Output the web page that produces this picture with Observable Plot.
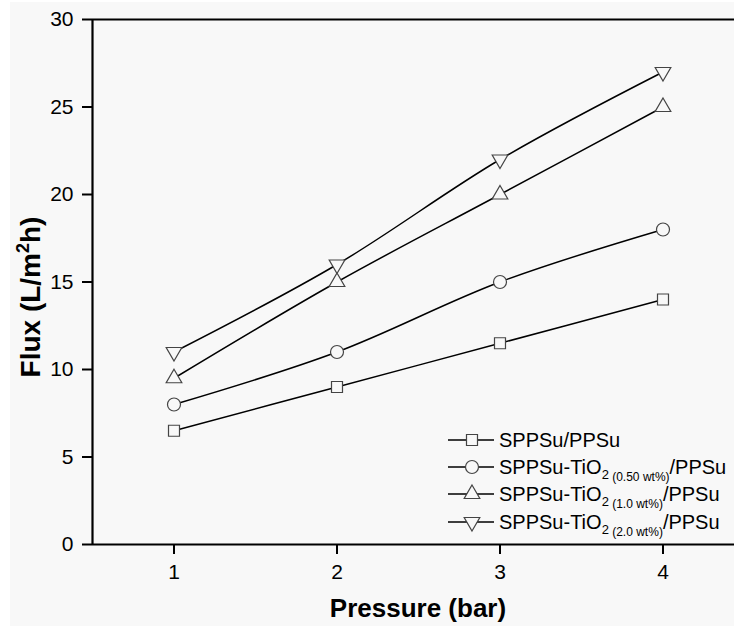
<!DOCTYPE html>
<html><head><meta charset="utf-8">
<script src="https://cdn.jsdelivr.net/npm/d3@7"></script>
<script src="https://cdn.jsdelivr.net/npm/@observablehq/plot@0.6"></script>
<style>
html,body{margin:0;padding:0;background:#fff;}
#bg{position:absolute;left:10px;top:2px;width:724px;height:624px;background:#f8f8f8;}
#chart{position:absolute;left:0;top:0;}
</style></head><body><div id="bg"></div><div id="chart"></div>
<script>
// ---- data ----
const pressure = [1, 2, 3, 4];
const seriesKeys = ["s0", "s050", "s10", "s20"];
const fluxPlain = [6.5, 9, 11.5, 14];
const flux050 = [8, 11, 15, 18];
const flux10 = [9.5, 15, 20, 25];
const flux20 = [11, 16, 22, 27];
const yTicks = [0, 5, 10, 15, 20, 25, 30];
const xTicks = [1, 2, 3, 4];
const legendMain = ["SPPSu/PPSu", "SPPSu-TiO", "SPPSu-TiO", "SPPSu-TiO"];
const legendSub = ["", "2", "2", "2"];
const legendLoad = ["", " (0.50 wt%)", " (1.0 wt%)", " (2.0 wt%)"];
const legendTail = ["", "/PPSu", "/PPSu", "/PPSu"];
const xTitle = "Pressure (bar)";

// ---- build table ----
const allFlux = [fluxPlain, flux050, flux10, flux20];
const rows = seriesKeys.flatMap((k, i) => pressure.map((p, j) => ({series: k, p, flux: allFlux[i][j]})));

const sqrt3 = Math.sqrt(3);
const triangleDown = {
  draw(context, size) {
    const y = -Math.sqrt(size / (sqrt3 * 3));
    context.moveTo(0, -y * 2);
    context.lineTo(-sqrt3 * y, y);
    context.lineTo(sqrt3 * y, y);
    context.closePath();
  }
};
const symbols = [d3.symbolSquare, d3.symbolCircle, d3.symbolTriangle, triangleDown];
const radii = [6.2, 6.5, 5.8, 5.8];
const bg = "#f8f8f8";
const markStroke = "#444";

const W = 734, H = 626;
const plot = Plot.plot({
  width: W, height: H,
  marginLeft: 92, marginRight: 0, marginTop: 19, marginBottom: 82,
  style: {background: "transparent", fontFamily: "'Liberation Sans', Arial, sans-serif", color: "#000"},
  x: {domain: [0.5, 0.5 + (W - 92) / 163], ticks: xTicks},
  y: {domain: [0, 30], ticks: yTicks},
  marks: [
    Plot.axisX({ticks: xTicks, tickSize: 10, tickPadding: 10, fontSize: 21, strokeWidth: 2, label: null, tickFormat: d => String(d)}),
    Plot.axisY({ticks: yTicks, tickSize: 10, tickPadding: 9, fontSize: 21, strokeWidth: 2, label: null, tickFormat: d => String(d)}),
    Plot.ruleY([0, 30], {stroke: "#000", strokeWidth: 2.2}),
    Plot.ruleX([0.5], {stroke: "#000", strokeWidth: 2.2}),
    ...seriesKeys.map(k => Plot.line(rows.filter(d => d.series === k), {x: "p", y: "flux", curve: "catmull-rom", stroke: "#000", strokeWidth: 1.5})),
    ...seriesKeys.map((k, i) => Plot.dot(rows.filter(d => d.series === k), {x: "p", y: "flux", symbol: symbols[i], r: radii[i], stroke: markStroke, strokeWidth: 1.2, fill: bg}))
  ]
});
document.getElementById("chart").appendChild(plot);

const svg = d3.select(plot);
const ff = "'Liberation Sans', Arial, sans-serif";
// x title
svg.append("text").attr("x", (92 + 744) / 2).attr("y", 617).attr("text-anchor", "middle")
  .attr("font-family", ff).attr("font-weight", "bold").attr("font-size", 26).text(xTitle);
// y title
const yt = svg.append("text").attr("transform", "translate(40,297) rotate(-90)").attr("text-anchor", "middle")
  .attr("font-family", ff).attr("font-weight", "bold").attr("font-size", 28);
yt.append("tspan").text("Flux (L/m");
yt.append("tspan").attr("font-size", 18).attr("dy", -11).text("2");
yt.append("tspan").attr("dy", 11).text("h)");

// legend
const lg = svg.append("g").attr("font-family", ff).attr("text-anchor", "start");
const rowY = [440, 467, 494, 522];
seriesKeys.forEach((k, i) => {
  const cy = rowY[i];
  lg.append("line").attr("x1", 448).attr("x2", 494).attr("y1", cy).attr("y2", cy).attr("stroke", "#000").attr("stroke-width", 1.5);
  lg.append("path").attr("transform", `translate(472,${cy})`)
    .attr("d", d3.symbol(symbols[i], radii[i] * radii[i] * Math.PI)())
    .attr("fill", bg).attr("stroke", markStroke).attr("stroke-width", 1.2);
  const t = lg.append("text").attr("x", 499).attr("y", cy + 7).attr("font-size", 20).attr("text-anchor", "start");
  t.append("tspan").text(legendMain[i]);
  if (legendSub[i]) {
    t.append("tspan").attr("font-size", 13).attr("dy", 5).text(legendSub[i]);
    t.append("tspan").attr("font-size", 12).attr("dy", 2).text(legendLoad[i]);
    t.append("tspan").attr("font-size", 20).attr("dy", -7).text(legendTail[i]);
  }
});
</script>
</body></html>
